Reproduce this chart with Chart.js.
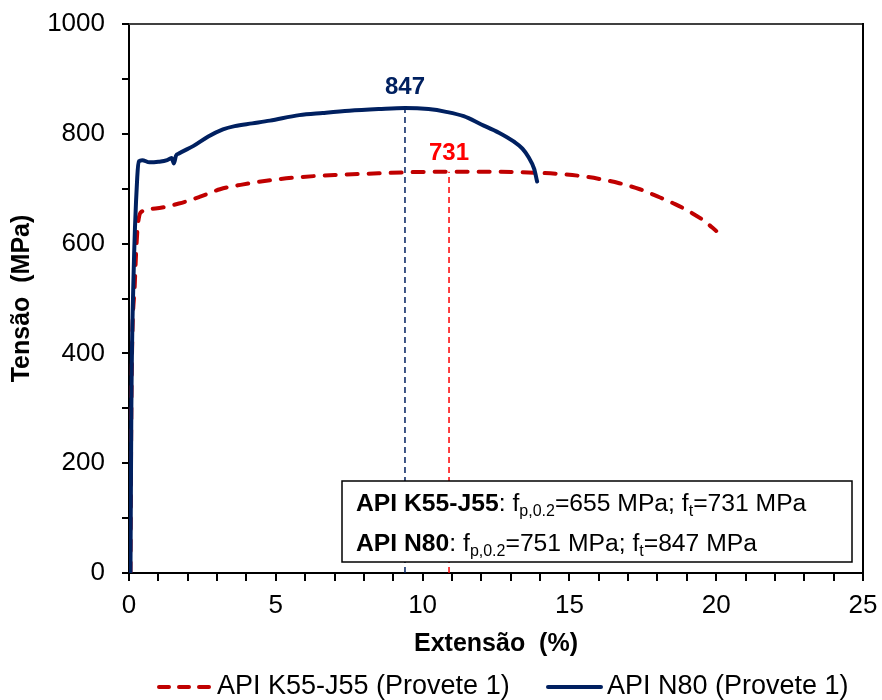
<!DOCTYPE html>
<html>
<head>
<meta charset="utf-8">
<script src="https://cdn.jsdelivr.net/npm/chart.js@4"></script>
<style>
  html, body { margin: 0; padding: 0; background: #ffffff; }
  #wrap { width: 882px; height: 700px; }
</style>
</head>
<body>
<div id="wrap"><canvas id="c" width="882" height="700"></canvas></div>
<script>
// Tensile test curves: strain (%) vs stress (MPa)
const k55Strain = [0.05, 0.08, 0.2, 0.28, 0.33, 0.4, 0.9, 1.7, 2.4, 3.1, 3.8, 4.9, 5.8, 7.0, 8.5, 9.5, 10.9, 12.5, 13.9, 14.6, 15.4, 16.1, 16.7, 17.4, 18.0, 18.6, 19.1, 19.6, 20.0];
const k55Stress = [0, 300, 530, 620, 645, 657, 664, 673, 685, 699, 707, 716, 721, 725, 728, 730, 731, 731, 729, 727, 723, 717, 710, 699, 686, 672, 658, 641, 623];

const n80Strain = [0.05, 0.08, 0.15, 0.28, 0.34, 0.45, 0.7, 1.0, 1.3, 1.45, 1.53, 1.6, 1.7, 2.2, 2.7, 3.2, 3.6, 4.2, 4.8, 5.8, 6.6, 7.5, 8.5, 9.4, 10.2, 10.8, 11.4, 12.0, 12.6, 13.1, 13.4, 13.6, 13.8, 13.9];
const n80Stress = [0, 300, 530, 720, 750, 752, 748, 749, 752, 756, 746, 760, 764, 778, 795, 808, 814, 819, 824, 834, 838, 842, 845, 847, 845, 840, 832, 817, 802, 786, 773, 758, 736, 713];

const seriesNames = ['API K55-J55 (Provete 1)', 'API N80 (Provete 1)'];
const steelGrades = ['API K55-J55', 'API N80'];
const proofStress = [655, 751];       // f_p,0.2 (MPa)
const tensileStrength = [731, 847];   // f_t (MPa)
const strainAtMax = [10.9, 9.4];      // strain at f_t (%)

const xTickLabels = [0, 5, 10, 15, 20, 25];
const yTickLabels = [0, 200, 400, 600, 800, 1000];

const NAVY = '#002060';
const DARK_RED = '#c00000';
const RED = '#ff0000';
const FONT = "'Liberation Sans', Arial, sans-serif";

const toPoints = (xs, ys) => xs.map((x, i) => ({ x: x, y: ys[i] }));

// Let the layout padding alone decide the plot area edges
function noOverflow(s) {
  s.paddingTop = 0;
  s.paddingBottom = 0;
  s.paddingLeft = 0;
  s.paddingRight = 0;
}

// Labels above the tensile strength markers
const peakLabels = {
  id: 'peakLabels',
  afterDatasetsDraw(chart) {
    const { ctx, scales: { x, y } } = chart;
    const colors = [RED, NAVY];
    const lift = [18, 21];
    ctx.save();
    ctx.font = 'bold 24px ' + FONT;
    ctx.textAlign = 'center';
    ctx.textBaseline = 'middle';
    tensileStrength.forEach((v, i) => {
      ctx.fillStyle = colors[i];
      ctx.fillText(String(v), x.getPixelForValue(strainAtMax[i]), y.getPixelForValue(v) - lift[i]);
    });
    ctx.restore();
  }
};

// Plot frame (top and right edges)
const frame = {
  id: 'frame',
  beforeDatasetsDraw(chart) {
    const { ctx, chartArea: a } = chart;
    ctx.save();
    ctx.lineWidth = 2;
    ctx.strokeStyle = '#404040';
    ctx.beginPath();
    ctx.moveTo(a.left, a.top);
    ctx.lineTo(a.right, a.top);
    ctx.stroke();
    ctx.strokeStyle = '#000';
    ctx.beginPath();
    ctx.moveTo(a.right, a.top - 1);
    ctx.lineTo(a.right, a.bottom);
    ctx.stroke();
    ctx.restore();
  }
};

// Text runs with bold and subscript parts
function drawRuns(ctx, x, y, runs, size) {
  runs.forEach(r => {
    const s = r.sub ? Math.round(size * 0.66) : size;
    ctx.font = (r.bold ? 'bold ' : '') + s + 'px ' + FONT;
    ctx.fillText(r.t, x, y + (r.sub ? size * 0.3 : 0));
    x += ctx.measureText(r.t).width;
  });
}

// Box with the material properties
const propsBox = {
  id: 'propsBox',
  afterDraw(chart) {
    const { ctx } = chart;
    const bx = 342, by = 481, bw = 510, bh = 81;
    ctx.save();
    ctx.fillStyle = '#fff';
    ctx.fillRect(bx, by, bw, bh);
    ctx.lineWidth = 1.5;
    ctx.strokeStyle = '#000';
    ctx.strokeRect(bx, by, bw, bh);
    ctx.fillStyle = '#000';
    ctx.textAlign = 'left';
    ctx.textBaseline = 'middle';
    steelGrades.forEach((g, i) => {
      drawRuns(ctx, bx + 14, by + 23 + i * 40, [
        { t: g, bold: true },
        { t: ': f' },
        { t: 'p,0.2', sub: true },
        { t: '=' + proofStress[i] + ' MPa; f' },
        { t: 't', sub: true },
        { t: '=' + tensileStrength[i] + ' MPa' }
      ], 24.7);
    });
    ctx.restore();
  }
};

// Legend below the axis title
const bottomLegend = {
  id: 'bottomLegend',
  afterDraw(chart) {
    const { ctx } = chart;
    const items = [
      { x: 157, w: 56, color: DARK_RED, dash: [10, 10] },
      { x: 546, w: 57, color: NAVY, dash: [] }
    ];
    const yy = 687;
    ctx.save();
    ctx.textAlign = 'left';
    ctx.textBaseline = 'middle';
    ctx.font = '27px ' + FONT;
    items.forEach((it, i) => {
      ctx.strokeStyle = it.color;
      ctx.lineWidth = 4;
      ctx.lineCap = 'round';
      ctx.setLineDash(it.dash);
      ctx.beginPath();
      ctx.moveTo(it.x + 2, yy);
      ctx.lineTo(it.x + it.w - 2, yy);
      ctx.stroke();
      ctx.setLineDash([]);
      ctx.fillStyle = '#000';
      ctx.fillText(seriesNames[i], it.x + it.w + 4, yy);
    });
    ctx.restore();
  }
};

new Chart(document.getElementById('c'), {
  type: 'scatter',
  data: {
    datasets: [
      {
        label: seriesNames[0],
        data: toPoints(k55Strain, k55Stress),
        showLine: true,
        borderColor: DARK_RED,
        borderWidth: 4,
        borderDash: [11, 11],
        borderCapStyle: 'round',
        pointRadius: 0,
        cubicInterpolationMode: 'monotone',
        order: 2
      },
      {
        label: seriesNames[1],
        data: toPoints(n80Strain, n80Stress),
        showLine: true,
        borderColor: NAVY,
        borderWidth: 4,
        borderCapStyle: 'round',
        borderJoinStyle: 'round',
        pointRadius: 0,
        cubicInterpolationMode: 'monotone',
        order: 1
      },
      {
        label: 'f_t ' + steelGrades[0],
        data: [{ x: strainAtMax[0], y: 0 }, { x: strainAtMax[0], y: tensileStrength[0] }],
        showLine: true,
        borderColor: RED,
        borderWidth: 1.5,
        borderDash: [6, 4],
        pointRadius: 0,
        order: 3
      },
      {
        label: 'f_t ' + steelGrades[1],
        data: [{ x: strainAtMax[1], y: 0 }, { x: strainAtMax[1], y: tensileStrength[1] }],
        showLine: true,
        borderColor: NAVY,
        borderWidth: 1.5,
        borderDash: [6, 4],
        pointRadius: 0,
        order: 3
      }
    ]
  },
  options: {
    responsive: false,
    animation: false,
    layout: { padding: { left: 0, top: 24, right: 19, bottom: 0 } },
    plugins: {
      legend: { display: false },
      tooltip: { enabled: false }
    },
    scales: {
      x: {
        type: 'linear',
        min: xTickLabels[0],
        max: xTickLabels[xTickLabels.length - 1],
        afterFit(s) { s.height = 127; noOverflow(s); },
        border: { display: true, color: '#000', width: 2 },
        grid: { display: true, drawOnChartArea: false, drawTicks: true, tickLength: 8, color: '#000', lineWidth: 2 },
        ticks: {
          stepSize: 1,
          autoSkip: false,
          maxRotation: 0,
          padding: 9,
          color: '#000',
          font: { family: FONT, size: 26 },
          callback: v => (xTickLabels.includes(v) ? String(v) : '')
        },
        title: {
          display: true,
          text: 'Extensão  (%)',
          color: '#000',
          font: { family: FONT, size: 25, weight: 'bold' },
          padding: { top: 0, bottom: 41 }
        }
      },
      y: {
        type: 'linear',
        min: yTickLabels[0],
        max: yTickLabels[yTickLabels.length - 1],
        afterFit(s) { s.width = 129; noOverflow(s); },
        border: { display: true, color: '#000', width: 2 },
        grid: { display: true, drawOnChartArea: false, drawTicks: true, tickLength: 7, color: '#000', lineWidth: 2 },
        ticks: {
          stepSize: 100,
          autoSkip: false,
          padding: 17,
          color: '#000',
          font: { family: FONT, size: 26 },
          callback: v => (yTickLabels.includes(v) ? String(v) : '')
        },
        title: {
          display: true,
          text: 'Tensão  (MPa)',
          color: '#000',
          font: { family: FONT, size: 25, weight: 'bold' },
          padding: { top: 7, bottom: 0 }
        }
      }
    }
  },
  plugins: [frame, peakLabels, propsBox, bottomLegend]
});
</script>
</body>
</html>
